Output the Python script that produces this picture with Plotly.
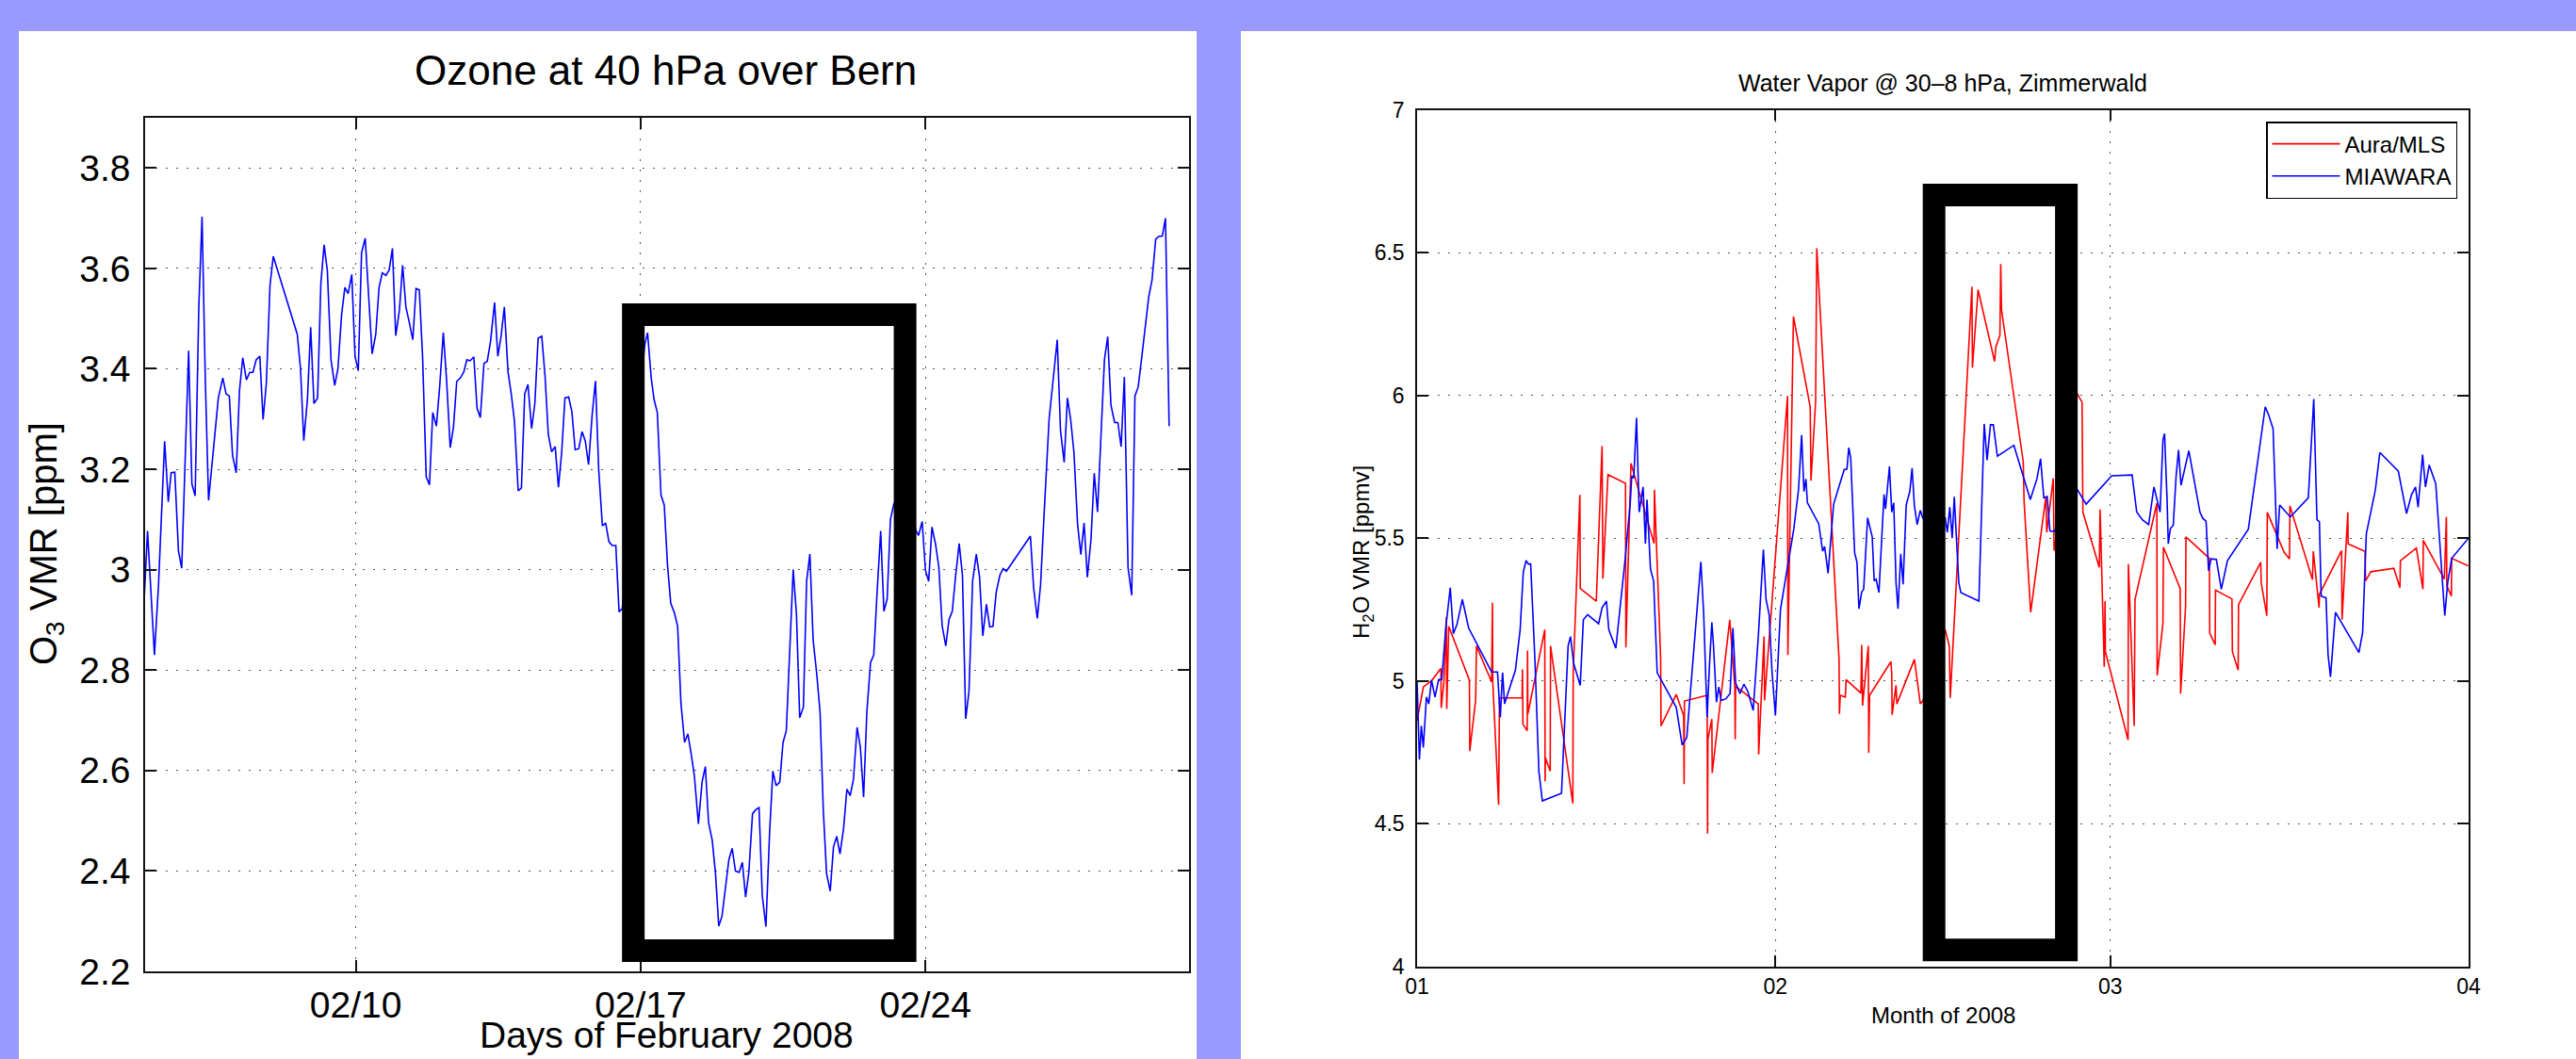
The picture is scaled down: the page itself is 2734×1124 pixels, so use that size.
import plotly.graph_objects as go

# ---------------- data: ozone at 40 hPa over Bern (day of February 2008) ----------------
ozone_day = [
    4.80, 4.88, 5.05, 5.15, 5.30, 5.39, 5.46, 5.55, 5.64, 5.72,
    5.89, 5.97, 6.05, 6.14, 6.22, 6.30, 6.38, 6.47, 6.62, 6.73,
    6.81, 6.89, 6.97, 7.06, 7.14, 7.22, 7.31, 7.39, 7.47, 7.55,
    7.64, 7.72, 7.80, 7.89, 7.97, 8.56, 8.64, 8.72, 8.81, 8.89,
    8.97, 9.06, 9.14, 9.22, 9.30, 9.39, 9.48, 9.56, 9.65, 9.73,
    9.81, 9.90, 9.98, 10.06, 10.14, 10.23, 10.31, 10.40, 10.49, 10.57,
    10.65, 10.74, 10.82, 10.90, 10.98, 11.07, 11.15, 11.23, 11.31, 11.40,
    11.48, 11.56, 11.64, 11.73, 11.81, 11.89, 11.98, 12.06, 12.15, 12.23,
    12.32, 12.40, 12.48, 12.57, 12.65, 12.73, 12.81, 12.90, 12.98, 13.06,
    13.15, 13.23, 13.31, 13.41, 13.49, 13.57, 13.65, 13.74, 13.82, 13.90,
    13.99, 14.07, 14.15, 14.23, 14.32, 14.40, 14.48, 14.57, 14.65, 14.73,
    14.81, 14.90, 14.98, 15.06, 15.14, 15.23, 15.31, 15.39, 15.48, 15.56,
    15.64, 15.72, 15.81, 15.89, 15.97, 16.06, 16.14, 16.22, 16.30, 16.39,
    16.47, 16.55,
    17.10, 17.17, 17.26, 17.33, 17.41, 17.50, 17.58, 17.66,
    17.74, 17.83, 17.91, 17.99, 18.08, 18.16, 18.24, 18.32, 18.42, 18.51,
    18.59, 18.67, 18.76, 18.84, 18.92, 19.00, 19.09, 19.17, 19.25, 19.33,
    19.42, 19.50, 19.58, 19.66, 19.75, 19.83, 19.91, 19.99, 20.08, 20.17,
    20.25, 20.33, 20.42, 20.50, 20.58, 20.66, 20.75, 20.83, 20.91, 21.00,
    21.08, 21.16, 21.24, 21.33, 21.41, 21.49, 21.57, 21.66, 21.74, 21.82,
    21.90, 21.99, 22.07, 22.15, 22.23, 22.32, 22.40, 22.48, 22.56, 22.65,
    22.73, 22.81, 22.90, 22.98, 23.06, 23.14, 23.23,
    23.75, 23.83, 23.92, 24.00, 24.08, 24.16, 24.25, 24.33, 24.41, 24.50,
    24.58, 24.66, 24.74, 24.83, 24.91, 24.99, 25.07, 25.16, 25.25, 25.33,
    25.41, 25.50, 25.58, 25.66, 25.74, 25.83, 25.91, 25.99, 26.58, 26.66,
    26.75, 26.83, 26.91, 27.04, 27.24, 27.32, 27.41, 27.49, 27.57, 27.65,
    27.74, 27.82, 27.90, 27.98, 28.07, 28.15, 28.23, 28.32, 28.40, 28.48,
    28.56, 28.65, 28.73, 28.81, 28.89, 28.98, 29.07, 29.15, 29.23, 29.32,
    29.41, 29.49, 29.57, 29.66, 29.74, 29.82, 29.90, 29.99,
]
ozone_ppm = [
    2.945, 3.077, 2.830, 2.970, 3.256, 3.135, 3.193, 3.194, 3.037, 3.003,
    3.436, 3.171, 3.147, 3.523, 3.703, 3.378, 3.138, 3.212, 3.342, 3.382,
    3.350, 3.346, 3.227, 3.193, 3.357, 3.422, 3.378, 3.393, 3.393, 3.418,
    3.425, 3.299, 3.371, 3.566, 3.624, 3.469, 3.400, 3.257, 3.339, 3.483,
    3.331, 3.342, 3.570, 3.647, 3.595, 3.418, 3.367, 3.400, 3.508, 3.562,
    3.550, 3.588, 3.425, 3.396, 3.631, 3.660, 3.552, 3.430, 3.469, 3.562,
    3.591, 3.586, 3.597, 3.640, 3.466, 3.516, 3.606, 3.523, 3.494, 3.458,
    3.560, 3.557, 3.425, 3.185, 3.169, 3.313, 3.286, 3.364, 3.472, 3.378,
    3.243, 3.284, 3.375, 3.382, 3.393, 3.418, 3.416, 3.424, 3.321, 3.303,
    3.411, 3.415, 3.454, 3.532, 3.425, 3.465, 3.523, 3.394, 3.350, 3.295,
    3.157, 3.163, 3.350, 3.369, 3.281, 3.331, 3.461, 3.465, 3.386, 3.270,
    3.235, 3.245, 3.164, 3.234, 3.342, 3.344, 3.315, 3.239, 3.241, 3.275,
    3.256, 3.209, 3.310, 3.376, 3.198, 3.087, 3.093, 3.056, 3.048, 3.048,
    2.916, 2.923,
    3.447, 3.472, 3.382, 3.339, 3.313, 3.149, 3.129, 3.010,
    2.933, 2.914, 2.887, 2.735, 2.656, 2.673, 2.634, 2.590, 2.494, 2.577,
    2.608, 2.496, 2.461, 2.395, 2.290, 2.310, 2.370, 2.423, 2.445, 2.400,
    2.397, 2.417, 2.348, 2.398, 2.514, 2.522, 2.526, 2.351, 2.289, 2.477,
    2.599, 2.570, 2.577, 2.656, 2.679, 2.842, 3.000, 2.911, 2.705, 2.726,
    2.977, 3.031, 2.860, 2.791, 2.716, 2.521, 2.395, 2.360, 2.448, 2.469,
    2.434, 2.486, 2.563, 2.550, 2.582, 2.686, 2.647, 2.547, 2.716, 2.815,
    2.830, 2.952, 3.077, 2.917, 2.942, 3.100, 3.133,
    3.081, 3.068, 3.096, 2.999, 2.977, 3.085, 3.050, 3.005, 2.889, 2.848,
    2.901, 2.917, 2.986, 3.052, 2.989, 2.703, 2.757, 2.977, 3.031, 2.986,
    2.868, 2.931, 2.886, 2.887, 2.955, 2.989, 3.002, 2.997, 3.067, 2.964,
    2.903, 2.970, 3.100, 3.300, 3.458, 3.277, 3.214, 3.342, 3.299, 3.234,
    3.090, 3.030, 3.093, 2.985, 3.061, 3.192, 3.115, 3.284, 3.418, 3.464,
    3.328, 3.293, 3.293, 3.245, 3.384, 3.004, 2.949, 3.346, 3.364, 3.425,
    3.494, 3.544, 3.577, 3.658, 3.664, 3.664, 3.700, 3.286,
]
ozone_ticks = [10, 17, 24]
ozone_ticktext = ["02/10", "02/17", "02/24"]
ozone_yticks = [2.2, 2.4, 2.6, 2.8, 3.0, 3.2, 3.4, 3.6, 3.8]
ozone_yticktext = ["2.2", "2.4", "2.6", "2.8", "3", "3.2", "3.4", "3.6", "3.8"]
ozone_box_days = [16.82, 23.50]     # highlighted period
ozone_box_ppm = [2.2415, 3.508]

# ---------------- data: water vapour 30-8 hPa, Zimmerwald (days since 1 Jan 2008) ----------------
miawara_day = [
    0.00, 0.20, 0.37, 0.54, 0.81, 1.01, 1.25, 1.55, 1.86, 2.13,
    2.50, 2.87, 3.14, 3.45, 3.92, 4.46, 6.45, 6.96, 7.20, 7.40,
    7.57, 7.84, 8.51, 8.92, 9.19, 9.43, 9.63, 9.83, 10.20, 10.54,
    10.84, 12.50, 13.07, 13.28, 13.55, 14.12, 14.39, 14.76, 15.71, 16.01,
    16.39, 16.59, 17.20, 18.01, 18.14, 18.45, 18.58, 18.75, 18.99, 19.22,
    19.56, 19.76, 19.90, 20.20, 20.47, 20.78, 22.43, 22.94, 23.34, 24.56,
    24.80, 25.10, 25.30, 25.51, 25.64, 25.91, 26.11, 26.32, 26.72, 27.09,
    27.33, 27.57, 27.94, 28.28, 28.61, 29.09, 29.53, 29.97, 30.20, 30.47,
    30.71, 31.01, 31.45, 32.06, 32.60, 33.01, 33.28, 33.48, 33.65, 33.78,
    34.76, 35.10, 35.27, 35.57, 36.05, 36.96, 37.20, 37.36, 37.53, 37.87,
    38.07, 38.24, 38.48, 38.65, 38.99, 39.39, 39.56, 39.73, 39.97, 40.41,
    40.54, 40.88, 41.08, 41.25, 41.45, 41.62, 41.86, 42.06, 42.33, 42.64,
    42.84, 43.04, 43.28, 43.55, 43.78, 45.71, 45.89, 46.10, 46.31, 46.49,
    46.70, 46.88, 47.06, 48.62, 49.08, 49.33, 49.62, 49.87, 50.22, 51.65,
    53.07, 53.64, 53.96, 54.24, 54.53, 54.77, 55.13, 57.08, 57.90, 60.11,
    61.88, 62.28, 62.77, 63.31, 63.77, 64.30, 64.55, 64.69, 64.91, 65.01,
    65.19, 65.44, 65.69, 65.90, 66.11, 66.79, 67.75, 68.00, 68.28, 68.50,
    68.71, 69.17, 69.60, 70.13, 71.94, 73.40, 73.69, 74.08, 74.43, 74.65,
    75.57, 77.13, 77.60, 77.88, 78.09, 78.24, 78.41, 78.66, 78.84, 79.05,
    79.48, 81.51, 81.83, 82.15, 82.93, 83.32, 84.92, 85.63, 86.06, 86.41,
    86.63, 87.02, 87.27, 87.59, 88.16, 88.72, 88.94, 89.19, 89.54, 90.96,
]
miawara_ppmv = [
    5.000, 4.724, 4.842, 4.766, 4.943, 4.919, 5.002, 4.943, 5.004, 5.004,
    5.191, 5.326, 5.165, 5.197, 5.285, 5.185, 5.031, 5.031, 4.872, 5.029,
    4.919, 4.955, 5.037, 5.179, 5.380, 5.421, 5.409, 5.409, 5.073, 4.683,
    4.579, 4.606, 5.122, 5.155, 5.061, 4.984, 5.214, 5.232, 5.200, 5.256,
    5.279, 5.179, 5.114, 5.427, 5.481, 5.624, 5.718, 5.710, 5.921, 5.591,
    5.679, 5.481, 5.635, 5.391, 5.350, 5.028, 4.907, 4.775, 4.801, 5.417,
    5.238, 4.872, 5.051, 5.205, 5.132, 4.925, 4.978, 4.931, 4.937, 4.955,
    5.185, 4.992, 4.955, 4.988, 4.964, 4.896, 5.155, 5.460, 5.285, 5.232,
    5.037, 4.878, 5.250, 5.397, 5.531, 5.669, 5.861, 5.663, 5.707, 5.624,
    5.550, 5.454, 5.470, 5.377, 5.619, 5.740, 5.742, 5.817, 5.779, 5.448,
    5.415, 5.252, 5.311, 5.321, 5.571, 5.504, 5.350, 5.356, 5.309, 5.653,
    5.602, 5.751, 5.591, 5.624, 5.344, 5.252, 5.445, 5.338, 5.616, 5.663,
    5.745, 5.613, 5.547, 5.597, 5.569, 5.570, 5.520, 5.608, 5.500, 5.645,
    5.474, 5.344, 5.309, 5.279, 5.900, 5.773, 5.897, 5.897, 5.787, 5.825,
    5.635, 5.707, 5.778, 5.641, 5.646, 5.525, 5.523, 5.674, 5.619, 5.718,
    5.721, 5.591, 5.564, 5.547, 5.679, 5.591, 5.844, 5.866, 5.628, 5.480,
    5.533, 5.545, 5.718, 5.809, 5.685, 5.806, 5.591, 5.569, 5.559, 5.385,
    5.427, 5.425, 5.321, 5.421, 5.531, 5.960, 5.932, 5.883, 5.462, 5.616,
    5.574, 5.641, 5.987, 5.564, 5.557, 5.297, 5.294, 5.291, 5.090, 5.014,
    5.240, 5.099, 5.169, 5.515, 5.668, 5.800, 5.734, 5.586, 5.652, 5.679,
    5.608, 5.792, 5.679, 5.756, 5.690, 5.380, 5.228, 5.344, 5.429, 5.498,
]
mls_day = [
    0.00, 0.54, 1.25, 2.06, 2.09, 2.33, 2.53, 2.57, 2.74, 4.53,
    4.56, 5.07, 5.14, 6.45, 6.52, 6.55, 7.06, 7.13, 9.09, 9.12,
    9.16, 9.53, 9.56, 9.59, 11.05, 11.08, 11.11, 11.52, 11.55, 13.48,
    13.51, 14.09, 14.12, 15.51, 16.01, 16.08, 16.52, 18.04, 18.07, 18.51,
    20.51, 20.54, 21.08, 21.11, 22.43, 23.07, 23.11, 23.14, 25.10, 25.14,
    25.17, 25.51, 25.54, 27.06, 27.50, 27.53, 27.57, 29.53, 29.56, 30.03,
    30.07, 32.06, 32.09, 32.57, 34.02, 34.09, 34.49, 34.59, 36.52, 36.55,
    36.62, 37.06, 37.13, 38.41, 38.48, 38.55, 39.05, 39.09, 39.16, 41.01,
    41.08, 41.11, 41.45, 41.52, 43.04, 43.55, 43.78, 45.71, 46.06, 46.14,
    48.02, 48.06, 48.55, 49.98, 50.08, 50.44, 50.51, 50.58, 52.46, 52.53,
    53.10, 54.42, 54.49, 55.06, 55.13, 57.08, 57.55, 57.62, 59.04, 59.11,
    59.47, 59.54, 59.57, 61.53, 61.56, 62.06, 62.13, 64.02, 64.05, 64.55,
    64.59, 66.04, 66.08, 66.51, 66.54, 68.57, 68.60, 69.07, 69.10, 70.52,
    70.56, 71.06, 71.09, 73.01, 73.05, 73.54, 73.58, 75.04, 75.50, 75.54,
    77.49, 77.56, 78.06, 78.09, 80.01, 80.05, 80.55, 80.58, 82.04, 82.08,
    82.54, 84.53, 85.06, 85.10, 86.48, 87.05, 87.08, 88.90, 89.08, 89.12,
    89.51, 89.54, 90.96,
]
mls_ppmv = [
    4.860, 4.978, 5.000, 5.043, 4.905, 5.000, 5.224, 4.901, 5.191, 5.002,
    4.754, 4.933, 5.122, 4.996, 5.273, 4.996, 4.565, 4.940, 4.940, 5.040,
    4.848, 4.825, 5.106, 4.884, 5.179, 4.648, 4.730, 4.683, 5.122, 4.570,
    5.025, 5.651, 5.323, 5.279, 5.822, 5.358, 5.722, 5.692, 5.117, 5.762,
    5.481, 5.669, 5.079, 4.842, 4.952, 4.878, 4.638, 4.929, 4.949, 4.465,
    4.795, 4.866, 4.677, 5.214, 4.978, 4.795, 4.981, 4.919, 4.742, 5.155,
    4.931, 5.998, 5.090, 6.276, 5.960, 5.701, 5.980, 6.515, 5.073, 4.884,
    4.949, 4.943, 5.004, 4.957, 5.126, 4.913, 5.122, 4.748, 4.949, 5.067,
    5.025, 4.881, 4.984, 4.919, 5.075, 4.919, 4.930, 5.179, 5.120, 4.940,
    6.381, 6.097, 6.370, 6.119, 6.169, 6.210, 6.460, 6.300, 5.767, 5.630,
    5.240, 5.645, 5.520, 5.710, 5.456, 6.009, 5.976, 5.591, 5.397, 5.600,
    5.049, 5.279, 5.102, 4.793, 5.409, 4.842, 5.285, 5.622, 5.019, 5.202,
    5.468, 5.323, 4.955, 5.262, 5.504, 5.429, 5.167, 5.126, 5.318, 5.287,
    5.102, 5.037, 5.267, 5.415, 5.344, 5.228, 5.590, 5.450, 5.427, 5.613,
    5.354, 5.454, 5.256, 5.303, 5.456, 5.214, 5.590, 5.480, 5.453, 5.350,
    5.382, 5.394, 5.326, 5.421, 5.465, 5.321, 5.492, 5.356, 5.574, 5.332,
    5.297, 5.429, 5.403,
]
wv_ticks = [0, 31, 60, 91]
wv_ticktext = ["01", "02", "03", "04"]
wv_yticks = [4, 4.5, 5, 5.5, 6, 6.5, 7]
wv_yticktext = ["4", "4.5", "5", "5.5", "6", "6.5", "7"]
wv_box_days = [44.74, 56.19]
wv_box_ppmv = [4.057, 6.702]

# ---------------- layout helpers ----------------
W, H = 2734, 1124
FONT = "Liberation Sans, Arial, Helvetica, sans-serif"


def px(x):
    return x / W


def py(y):
    return 1 - y / H


fig = go.Figure()

fig.add_trace(go.Scatter(x=ozone_day, y=ozone_ppm, mode="lines",
                         line=dict(color="#0000FF", width=1.6),
                         xaxis="x", yaxis="y", showlegend=False))
fig.add_trace(go.Scatter(x=mls_day, y=mls_ppmv, mode="lines", name="Aura/MLS",
                         line=dict(color="#FF0000", width=1.6),
                         xaxis="x2", yaxis="y2"))
fig.add_trace(go.Scatter(x=miawara_day, y=miawara_ppmv, mode="lines", name="MIAWARA",
                         line=dict(color="#0000FF", width=1.6),
                         xaxis="x2", yaxis="y2"))

axis_common = dict(showline=True, linecolor="#111", linewidth=1.5, mirror="ticks",
                   ticks="inside", ticklen=12, tickwidth=1.5, tickcolor="#111",
                   showgrid=True, gridcolor="#555", gridwidth=1.3, griddash="2px,9px",
                   zeroline=False, automargin=False,
                   tickfont=dict(family=FONT, color="black"))

fig.update_layout(
    template="none",
    width=W, height=H, autosize=False,
    margin=dict(l=0, r=0, t=0, b=0, pad=0, autoexpand=False),
    paper_bgcolor="#9999FF", plot_bgcolor="white",
    font=dict(family=FONT, color="black"),
    xaxis=dict(axis_common, domain=[px(154), px(1262)], anchor="y",
               range=[4.82, 30.48], tickvals=ozone_ticks, ticktext=ozone_ticktext,
               tickfont=dict(family=FONT, size=39, color="black"), ticklabelstandoff=0),
    yaxis=dict(axis_common, domain=[py(1031), py(125)], anchor="x",
               range=[2.2, 3.9], tickvals=ozone_yticks, ticktext=ozone_yticktext,
               tickfont=dict(family=FONT, size=39, color="black"), ticklabelstandoff=6),
    xaxis2=dict(axis_common, domain=[px(1504), px(2620)], anchor="y2",
                range=[0, 91], tickvals=wv_ticks, ticktext=wv_ticktext,
                tickfont=dict(family=FONT, size=23, color="black"), ticklabelstandoff=0),
    yaxis2=dict(axis_common, domain=[py(1025.5), py(116.7)], anchor="x2",
                range=[4, 7], tickvals=wv_yticks, ticktext=wv_yticktext,
                tickfont=dict(family=FONT, size=23, color="black"), ticklabelstandoff=7),
    legend=dict(x=px(2608), y=py(129), xanchor="right", yanchor="top",
                bgcolor="white", bordercolor="black", borderwidth=1.5,
                font=dict(family=FONT, size=24, color="black"), itemwidth=72,
                tracegroupgap=0),
    showlegend=True,
)

# white panels
fig.add_shape(type="rect", xref="paper", yref="paper", x0=px(20), x1=px(1270),
              y0=0, y1=py(33), fillcolor="white", line=dict(width=0), layer="below")
fig.add_shape(type="rect", xref="paper", yref="paper", x0=px(1317), x1=1,
              y0=0, y1=py(33), fillcolor="white", line=dict(width=0), layer="below")

# highlight boxes
fig.add_shape(type="rect", xref="x", yref="y",
              x0=ozone_box_days[0], x1=ozone_box_days[1],
              y0=ozone_box_ppm[0], y1=ozone_box_ppm[1],
              line=dict(color="black", width=24), fillcolor="rgba(0,0,0,0)", layer="above")
fig.add_shape(type="rect", xref="x2", yref="y2",
              x0=wv_box_days[0], x1=wv_box_days[1],
              y0=wv_box_ppmv[0], y1=wv_box_ppmv[1],
              line=dict(color="black", width=24), fillcolor="rgba(0,0,0,0)", layer="above")

ann = [
    dict(text="Ozone at 40 hPa over Bern", x=px(706), y=py(75), size=44, angle=0),
    dict(text="Days of February 2008", x=px(708), y=py(1098), size=39, angle=0),
    dict(text="O<sub>3</sub> VMR [ppm]", x=px(49), y=py(577), size=40, angle=-90),
    dict(text="Water Vapor @ 30\u20138 hPa, Zimmerwald", x=px(2062), y=py(88), size=25, angle=0),
    dict(text="Month of 2008", x=px(2062), y=py(1077), size=24, angle=0),
    dict(text="H<sub>2</sub>O VMR [ppmv]", x=px(1446), y=py(586), size=24, angle=-90),
]
for a in ann:
    fig.add_annotation(text=a["text"], x=a["x"], y=a["y"], xref="paper", yref="paper",
                       xanchor="center", yanchor="middle", showarrow=False,
                       textangle=a["angle"], font=dict(family=FONT, size=a["size"], color="black"))

fig.write_html("out.html", config={"displayModeBar": False},
               post_script="document.body.style.margin='0';document.body.style.overflow='hidden';")
